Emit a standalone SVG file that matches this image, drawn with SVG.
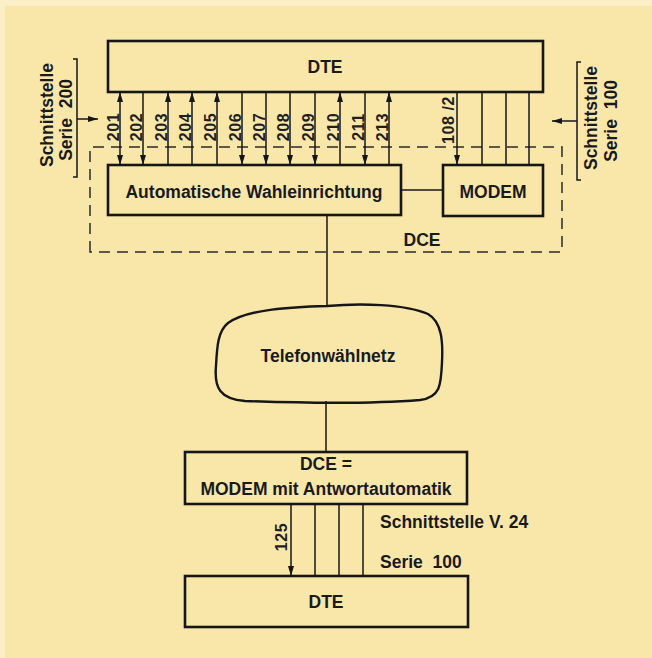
<svg xmlns="http://www.w3.org/2000/svg" width="652" height="658" viewBox="0 0 652 658">
<defs>
<style>
.box{fill:none;stroke:#161616;stroke-width:2.6}
.ln{fill:none;stroke:#161616;stroke-width:1.5}
.dash{fill:none;stroke:#2a2a2a;stroke-width:1.5;stroke-dasharray:11 7}
.t{font-family:"Liberation Sans",Arial,sans-serif;font-weight:bold;fill:#1a1a1a;font-size:17.5px;white-space:pre}
.c{text-anchor:middle}
.n{font-family:"Liberation Sans",Arial,sans-serif;font-weight:bold;fill:#1f1f1f;font-size:16px;letter-spacing:0.6px;text-anchor:middle;white-space:pre}
</style>
<marker id="ah" markerUnits="userSpaceOnUse" viewBox="0 0 10 6" refX="10" refY="3" markerWidth="10" markerHeight="6" orient="auto-start-reverse">
<path d="M0,0 L10,3 L0,6 z" fill="#161616"/>
</marker>
</defs>
<rect x="0" y="0" width="652" height="658" fill="#fbefc8"/>
<rect x="5" y="6" width="647" height="652" fill="#f9e7aa"/>

<g id="dte-top">
<rect class="box" x="108" y="41" width="435" height="51"/>
<text class="t c" x="325" y="73">DTE</text>
</g>
<g id="dce-boundary">
<path class="dash" d="M90,252 V147 H562 V252 Z"/>
<text class="t c" x="422" y="246">DCE</text>
</g>
<g id="awe">
<rect class="box" x="108" y="165" width="293" height="50"/>
<text class="t c" x="254" y="198">Automatische Wahleinrichtung</text>
</g>
<g id="modem">
<rect class="box" x="443" y="165" width="100" height="51"/>
<text class="t c" x="493" y="198">MODEM</text>
</g>
<g id="cloud">
<path fill="none" stroke="#161616" stroke-width="2.4" d="M327,306 C360,303 405,304 428,314 C442,322 443,342 442,362 C441,384 441,397 420,400 C370,404 300,403 245,401 C220,399 214,388 216,366 C217,346 218,331 228,323 C248,309 292,307 327,306 Z"/>
<text class="t c" x="328" y="362">Telefonwählnetz</text>
</g>
<g id="dce-bottom">
<rect class="box" x="185" y="452" width="282" height="52"/>
<text class="t c" x="326" y="470">DCE =</text>
<text class="t c" x="326" y="495">MODEM mit Antwortautomatik</text>
</g>
<g id="dte-bottom">
<rect class="box" x="185" y="576" width="283" height="51"/>
<text class="t c" x="326" y="608">DTE</text>
</g>

<g id="connectors">
<line class="ln" x1="120" y1="92" x2="120" y2="165" marker-start="url(#ah)" marker-end="url(#ah)"/>
<line class="ln" x1="143" y1="92" x2="143" y2="165" marker-end="url(#ah)"/>
<line class="ln" x1="168" y1="165" x2="168" y2="92" marker-end="url(#ah)"/>
<line class="ln" x1="192" y1="165" x2="192" y2="92" marker-end="url(#ah)"/>
<line class="ln" x1="217" y1="165" x2="217" y2="92" marker-end="url(#ah)"/>
<line class="ln" x1="242" y1="92" x2="242" y2="165" marker-end="url(#ah)"/>
<line class="ln" x1="266" y1="92" x2="266" y2="165" marker-end="url(#ah)"/>
<line class="ln" x1="290" y1="92" x2="290" y2="165" marker-end="url(#ah)"/>
<line class="ln" x1="315" y1="92" x2="315" y2="165" marker-end="url(#ah)"/>
<line class="ln" x1="340" y1="165" x2="340" y2="92" marker-end="url(#ah)"/>
<line class="ln" x1="365" y1="92" x2="365" y2="165" marker-end="url(#ah)"/>
<line class="ln" x1="389" y1="165" x2="389" y2="92" marker-end="url(#ah)"/>
<line class="ln" x1="457" y1="92" x2="457" y2="165" marker-end="url(#ah)"/>
<line class="ln" x1="482" y1="92" x2="482" y2="165"/>
<line class="ln" x1="506" y1="92" x2="506" y2="165"/>
<line class="ln" x1="529" y1="92" x2="529" y2="165"/>
<line class="ln" x1="401" y1="190" x2="443" y2="190"/>
<line class="ln" x1="327" y1="215" x2="327" y2="306"/>
<line class="ln" x1="326" y1="401" x2="326" y2="452"/>
<line class="ln" x1="291" y1="504" x2="291" y2="576" marker-end="url(#ah)"/>
<line class="ln" x1="315" y1="504" x2="315" y2="576"/>
<line class="ln" x1="339" y1="504" x2="339" y2="576"/>
<line class="ln" x1="363" y1="504" x2="363" y2="576"/>
<path class="ln" d="M73,59 H77 V177 H73"/>
<line class="ln" x1="77" y1="119" x2="98" y2="119" marker-end="url(#ah)"/>
<path class="ln" d="M581,62 H577 V180 H581"/>
<line class="ln" x1="577" y1="121" x2="552" y2="121" marker-end="url(#ah)"/>
</g>

<g id="labels">
<text class="n" transform="translate(118.5,127) rotate(-90)">201</text>
<text class="n" transform="translate(141.5,127) rotate(-90)">202</text>
<text class="n" transform="translate(166.5,127) rotate(-90)">203</text>
<text class="n" transform="translate(190.5,127) rotate(-90)">204</text>
<text class="n" transform="translate(215.5,127) rotate(-90)">205</text>
<text class="n" transform="translate(240.5,127) rotate(-90)">206</text>
<text class="n" transform="translate(264.5,127) rotate(-90)">207</text>
<text class="n" transform="translate(288.5,127) rotate(-90)">208</text>
<text class="n" transform="translate(313.5,127) rotate(-90)">209</text>
<text class="n" transform="translate(338.5,127) rotate(-90)">210</text>
<text class="n" transform="translate(363.5,127) rotate(-90)">211</text>
<text class="n" transform="translate(387.5,127) rotate(-90)">213</text>
<text class="n" transform="translate(454,120) rotate(-90)">108 /2</text>
<text class="n" transform="translate(287,537) rotate(-90)">125</text>
<text class="t c" transform="translate(53,115) rotate(-90)">Schnittstelle</text>
<text class="t c" transform="translate(72,120) rotate(-90)">Serie  200</text>
<text class="t c" transform="translate(597,118) rotate(-90)">Schnittstelle</text>
<text class="t c" transform="translate(617,121) rotate(-90)">Serie  100</text>
<text class="t" x="380" y="528">Schnittstelle V. 24</text>
<text class="t" x="380" y="568">Serie  100</text>
</g>
</svg>
